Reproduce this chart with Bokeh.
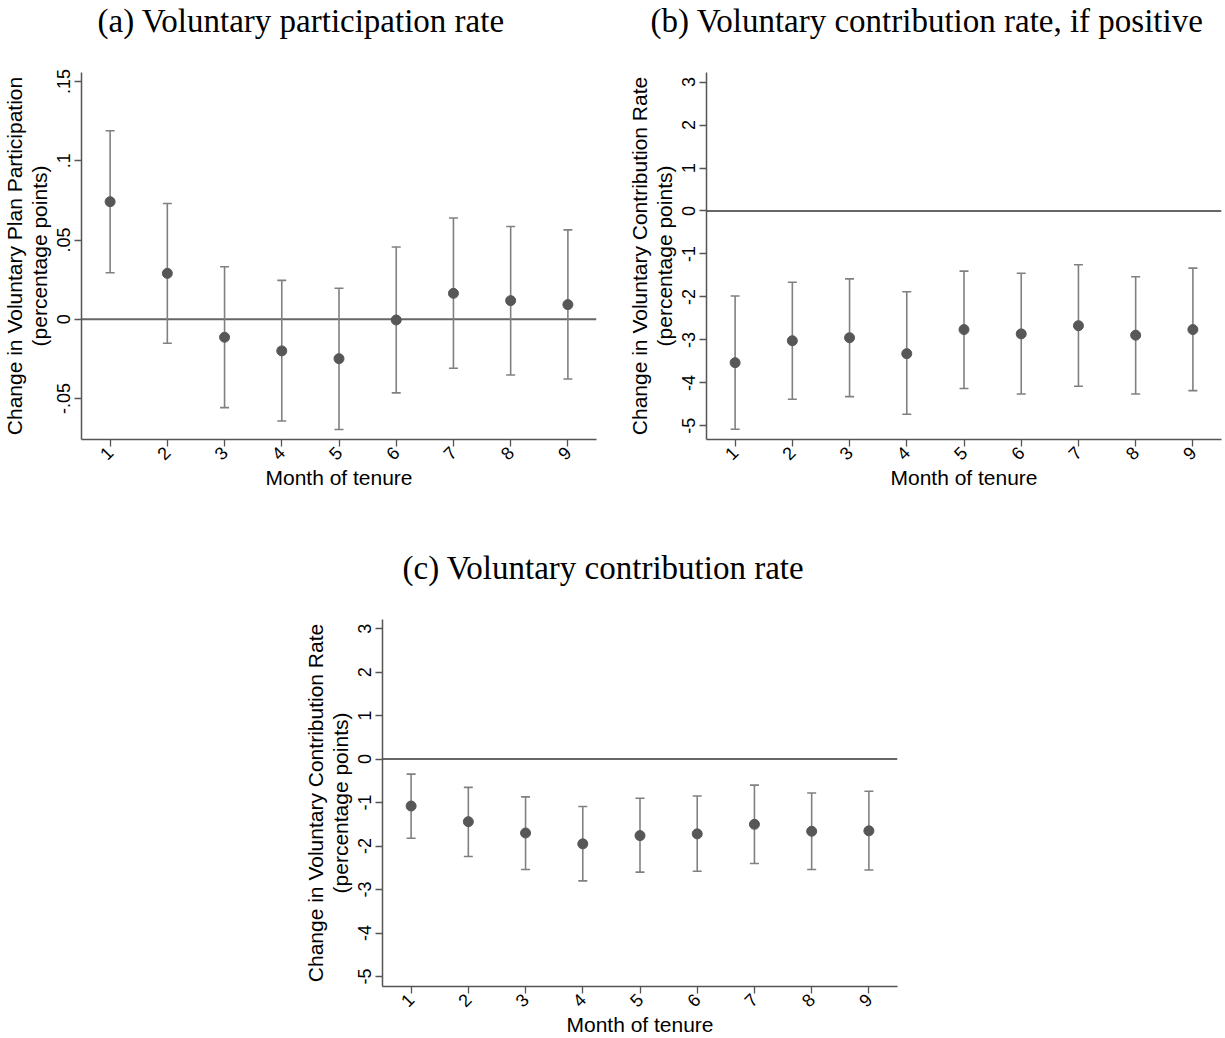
import math
from bokeh.plotting import figure
from bokeh.models import (ColumnDataSource, Whisker, TeeHead, Span, Range1d,
                          FixedTicker, Spacer, Title)
from bokeh.layouts import column, row
from bokeh.embed import file_html
from bokeh.resources import INLINE

months = [1, 2, 3, 4, 5, 6, 7, 8, 9]

# (a) Voluntary participation rate
a_est = [0.0742, 0.0290, -0.0113, -0.0199, -0.0248, -0.0004, 0.0164, 0.0118, 0.0093]
a_lo = [0.0294, -0.0151, -0.0557, -0.0641, -0.0695, -0.0464, -0.0309, -0.0351, -0.0376]
a_hi = [0.1190, 0.0731, 0.0332, 0.0246, 0.0196, 0.0456, 0.0639, 0.0586, 0.0564]
a_ticks = [-0.05, 0, 0.05, 0.1, 0.15]
a_tick_labels = ["-.05", "0", ".05", ".1", ".15"]

# (b) Voluntary contribution rate, if positive
b_est = [-3.53, -3.02, -2.95, -3.32, -2.76, -2.86, -2.67, -2.89, -2.76]
b_lo = [-5.08, -4.38, -4.32, -4.73, -4.13, -4.26, -4.08, -4.26, -4.18]
b_hi = [-1.98, -1.66, -1.58, -1.88, -1.40, -1.45, -1.25, -1.53, -1.33]

# (c) Voluntary contribution rate
c_est = [-1.08, -1.44, -1.70, -1.95, -1.76, -1.72, -1.50, -1.66, -1.65]
c_lo = [-1.82, -2.24, -2.54, -2.80, -2.60, -2.58, -2.40, -2.54, -2.55]
c_hi = [-0.345, -0.65, -0.87, -1.09, -0.90, -0.85, -0.60, -0.78, -0.74]

bc_ticks = [-5, -4, -3, -2, -1, 0, 1, 2, 3]
bc_tick_labels = ["-5", "-4", "-3", "-2", "-1", "0", "1", "2", "3"]

titles = ["(a) Voluntary participation rate",
          "(b) Voluntary contribution rate, if positive",
          "(c) Voluntary contribution rate"]
x_label = "Month of tenure"
ya_label = "Change in Voluntary Plan Participation\n(percentage points)"
yb_label = "Change in Voluntary Contribution Rate\n(percentage points)"

SANS = "Liberation Sans"
SERIF = "Liberation Serif"


def make_panel(title, title_offset, est, lo, hi, yrange, ticks, tick_labels,
               ylabel, left, right, bottom, zero_color, zero_width):
    p = figure(output_backend="svg", toolbar_location=None, title=None,
               frame_width=515, frame_height=367,
               min_border_left=left, min_border_right=right,
               min_border_top=72, min_border_bottom=bottom,
               x_range=Range1d(0.5, 9.5), y_range=Range1d(*yrange))
    p.background_fill_color = "white"
    p.border_fill_color = "white"
    p.outline_line_color = None
    p.grid.visible = False

    # invisible spacer next to the frame, then the real title above it
    p.add_layout(Title(text=" ", text_font_size="2px", standoff=30), "above")
    p.add_layout(Title(text=title, text_font=SERIF, text_font_size="33px",
                       text_font_style="normal", text_color="black",
                       align="left", offset=title_offset, standoff=0), "above")

    zero = Span(location=0, dimension="width", line_color=zero_color,
                line_width=zero_width, level="underlay")
    p.add_layout(zero)

    src = ColumnDataSource(dict(x=months, y=est, lo=lo, hi=hi))
    w = Whisker(source=src, base="x", upper="hi", lower="lo",
                line_color="#808080", line_width=1.6, level="underlay",
                upper_head=TeeHead(size=9, line_color="#808080", line_width=1.6),
                lower_head=TeeHead(size=9, line_color="#808080", line_width=1.6))
    p.add_layout(w)
    p.scatter("x", "y", source=src, size=10, color="#575757")

    for ax in (p.xaxis[0], p.yaxis[0]):
        ax.axis_line_color = "#555555"
        ax.axis_line_width = 1.5
        ax.major_tick_line_color = "#555555"
        ax.major_tick_line_width = 1.3
        ax.major_tick_out = 7
        ax.major_tick_in = 0
        ax.minor_tick_line_color = None
        ax.major_label_text_font = SANS
        ax.major_label_text_font_size = "18px"
        ax.major_label_text_color = "black"
        ax.axis_label_text_font = SANS
        ax.axis_label_text_font_size = "21px"
        ax.axis_label_text_font_style = "normal"
        ax.axis_label_text_color = "black"

    p.xaxis.ticker = FixedTicker(ticks=months)
    p.xaxis.major_label_orientation = math.pi / 4
    p.xaxis.major_label_standoff = 3
    p.xaxis.axis_label = x_label
    p.xaxis.axis_label_standoff = -3

    p.yaxis.ticker = FixedTicker(ticks=ticks)
    p.yaxis.major_label_overrides = {t: l for t, l in zip(ticks, tick_labels)}
    p.yaxis.major_label_orientation = "parallel"
    p.yaxis.major_label_standoff = 4
    p.yaxis.axis_label = ylabel
    p.yaxis.axis_label_standoff = 4
    p.yaxis.axis_label_text_line_height = 1.05
    return p


pa = make_panel(titles[0], 16, a_est, a_lo, a_hi, (-0.0758, 0.1557), a_ticks,
                a_tick_labels, ya_label, 81, 16, 108, "#666666", 2)
pb = make_panel(titles[1], -56, b_est, b_lo, b_hi, (-5.318, 3.223), bc_ticks,
                bc_tick_labels, yb_label, 94, 4, 108, "#333333", 1.5)
pc = make_panel(titles[2], 20, c_est, c_lo, c_hi, (-5.23, 3.21), bc_ticks,
                bc_tick_labels, yb_label, 82, 10, 52, "#333333", 1.5)

layout = column(row(pa, pb), row(Spacer(width=300, height=491), pc))

open("out.html", "w").write(file_html(layout, INLINE))
